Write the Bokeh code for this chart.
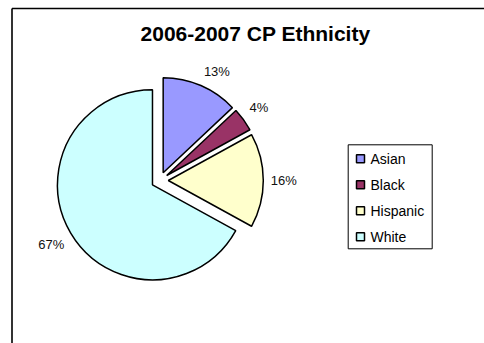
import numpy as np
from bokeh.plotting import figure
from bokeh.models import Range1d
from bokeh.core.properties import value
from bokeh.embed import file_html
from bokeh.resources import INLINE

# ---- data ----
title = "2006-2007 CP Ethnicity"
categories = ["Asian", "Black", "Hispanic", "White"]
percents = [13, 4, 16, 67]
colors = ["#9999FF", "#993366", "#FFFFCC", "#CCFFFF"]

W, H = 484, 343
FONT = "Liberation Sans"

p = figure(width=W, height=H, x_range=Range1d(0, W), y_range=Range1d(0, H),
           output_backend="svg", toolbar_location=None,
           x_axis_type=None, y_axis_type=None, min_border=0)
p.outline_line_color = None
p.background_fill_color = "white"
p.border_fill_color = "white"

def Y(py):
    return H - py

# chart border (left and top visible)
p.segment(x0=[11.5, 11.5], y0=[Y(8), Y(8)], x1=[11.5, 500], y1=[Y(360), Y(8)],
          line_color=["#333333", "black"], line_width=[2, 1.5])

# title
p.text(x=[255], y=[Y(33)], text=[title], text_font=value(FONT), text_font_style="bold",
       text_font_size="21px", text_align="center", text_baseline="middle", text_color="black")

# pie
cx, cy = 159.3, Y(180)
r = 95
explode = 8.5
vals = np.array(percents, dtype=float)
frac = vals / vals.sum()
cum_end = np.cumsum(frac)
cum_start = cum_end - frac
start_ang = np.pi / 2 - 2 * np.pi * cum_end
end_ang = np.pi / 2 - 2 * np.pi * cum_start
mid = (start_ang + end_ang) / 2
xs = cx + explode * np.cos(mid)
ys = cy + explode * np.sin(mid)

p.wedge(x=xs, y=ys, radius=r, start_angle=start_ang, end_angle=end_ang,
        direction="anticlock", fill_color=colors, line_color="black", line_width=1.5)

# data labels
R_lab = 111
for v, m in zip(percents, mid):
    lx = cx + R_lab * np.cos(m)
    ly = cy + R_lab * np.sin(m)
    c, s = np.cos(m), np.sin(m)
    align = "left" if c > 0.3 else ("right" if c < -0.3 else "center")
    base = "bottom" if s > 0.3 else ("top" if s < -0.3 else "middle")
    p.text(x=[lx], y=[ly], text=[f"{v}%"], text_font=value(FONT), text_font_size="13px",
           text_align=align, text_baseline=base, text_color="#111111")

# legend
p.quad(left=[347.7], right=[431.7], top=[Y(144.3)], bottom=[Y(248.3)],
       fill_color="white", line_color="black", line_width=1)
ly0 = 158.3
step = 26
leg_y = [Y(ly0 + step * i) for i in range(len(categories))]
p.rect(x=[360] * len(categories), y=leg_y, width=8, height=8,
       fill_color=colors, line_color="black", line_width=1.5)
p.text(x=[370] * len(categories), y=leg_y, text=categories, text_font=value(FONT),
       text_font_size="14px", text_align="left", text_baseline="middle", text_color="black")

open("out.html", "w").write(file_html(p, INLINE))
